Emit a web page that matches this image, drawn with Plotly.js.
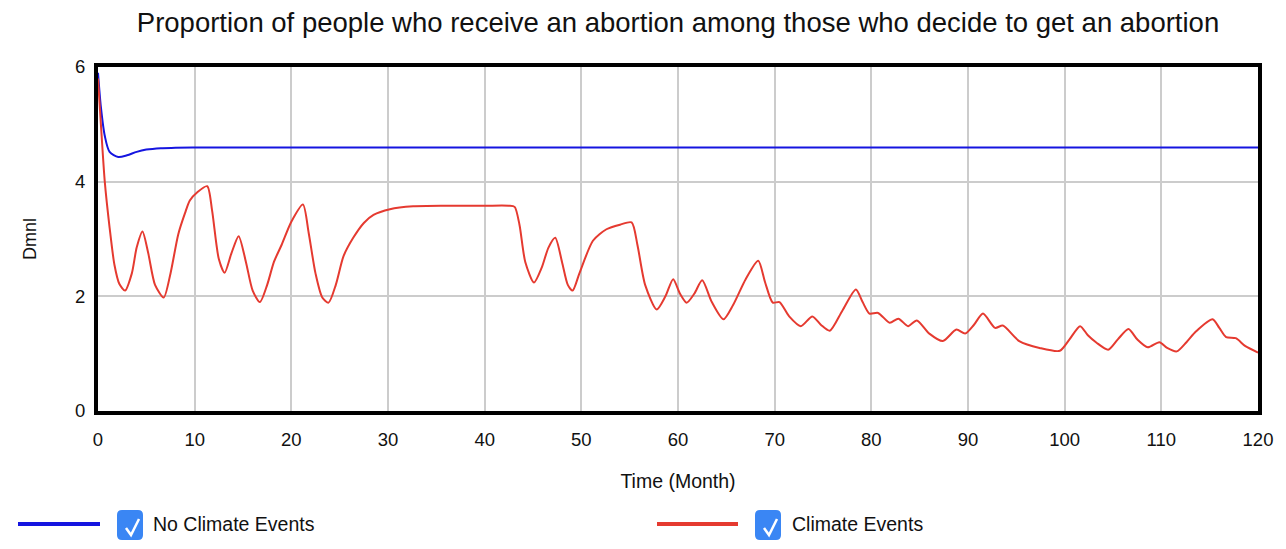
<!DOCTYPE html>
<html>
<head>
<meta charset="utf-8">
<script src="https://cdn.plot.ly/plotly-3.0.1.min.js"></script>
<style>html,body{margin:0;padding:0;background:#fff;}#chart{width:1286px;height:549px;}</style>
</head>
<body>
<div id="chart"></div>
<script>
// ---- data ----
const blueTime = [0, 0.3, 0.7, 1.2, 2.1, 3, 4, 5, 6.5, 8, 10, 20, 40, 60, 80, 100, 120];
const blueValues = [5.9, 5.3, 4.8, 4.52, 4.43, 4.46, 4.52, 4.56, 4.585, 4.59, 4.595, 4.595, 4.595, 4.595, 4.595, 4.595, 4.595];

const redTime = [0, 0.3, 0.7, 1.2, 1.7, 2.2, 2.8, 3.5, 4.0, 4.6, 5.2, 5.9, 6.8, 7.5, 8.3, 9.0, 9.5, 10.3, 11.3, 11.8, 12.5, 13.1, 13.8, 14.55, 15.3, 16.0, 16.75, 17.5, 18.2, 19.0, 20.0, 21.2, 21.8, 22.5, 23.2, 23.85, 24.6, 25.4, 26.4, 27.5, 28.5, 30.2, 32.6, 36, 40, 42.5, 43.1, 43.6, 44.2, 45.1, 45.9, 46.6, 47.3, 48.0, 48.6, 49.1, 49.8, 51.2, 52.6, 54, 55.2, 55.8, 56.6, 57.8, 58.7, 59.5, 60.2, 60.9, 61.7, 62.5, 63.5, 64.7, 65.7, 67, 68.3, 69.0, 69.8, 70.5, 71.5, 72.7, 73.9, 74.8, 75.7, 77, 78.4, 79.1, 79.8, 80.7, 81.9, 82.8, 83.8, 84.7, 86, 87.4, 88.8, 89.7, 90.6, 91.55, 92.8, 93.6, 95.3, 97.4, 99.5, 100.5, 101.6, 102.4, 103.3, 104.5, 105.5, 106.6, 107.5, 108.6, 109.8, 110.6, 111.6, 112.6, 113.6, 115.3, 116.0, 116.7, 117.7, 118.7, 120];
const redValues = [5.8, 5.0, 4.0, 3.2, 2.55, 2.22, 2.10, 2.4, 2.85, 3.13, 2.75, 2.2, 1.98, 2.4, 3.08, 3.45, 3.67, 3.82, 3.92, 3.5, 2.65, 2.41, 2.75, 3.05, 2.6, 2.1, 1.90, 2.2, 2.6, 2.9, 3.3, 3.60, 3.1, 2.4, 1.98, 1.89, 2.2, 2.7, 3.02, 3.28, 3.42, 3.52, 3.57, 3.58, 3.58, 3.58, 3.56, 3.25, 2.6, 2.24, 2.5, 2.85, 3.02, 2.6, 2.2, 2.10, 2.4, 2.97, 3.17, 3.25, 3.29, 2.9, 2.2, 1.77, 2.0, 2.30, 2.05, 1.89, 2.05, 2.28, 1.9, 1.60, 1.85, 2.3, 2.62, 2.25, 1.89, 1.90, 1.65, 1.48, 1.65, 1.5, 1.40, 1.75, 2.12, 1.9, 1.70, 1.71, 1.54, 1.61, 1.48, 1.58, 1.35, 1.22, 1.42, 1.35, 1.5, 1.70, 1.45, 1.49, 1.22, 1.10, 1.05, 1.25, 1.48, 1.32, 1.19, 1.07, 1.25, 1.43, 1.25, 1.11, 1.20, 1.1, 1.04, 1.2, 1.39, 1.60, 1.45, 1.29, 1.27, 1.13, 1.02];

const seriesNames = ["No Climate Events", "Climate Events"];
const titleText = "Proportion of people who receive an abortion among those who decide to get an abortion";
const xTicks = [0, 10, 20, 30, 40, 50, 60, 70, 80, 90, 100, 110, 120];
const yTicks = [0, 2, 4, 6];

// ---- styles ----
const BLUE = "#1515e0";
const RED = "#e53a30";
const CHECK = "#3a86f4";
const FONT = "Arial, 'Liberation Sans', Helvetica, sans-serif";

const W = 1286, H = 549;
const L = 98, R = 1258, T = 67, B = 411;
const px = v => (v - L) / (R - L);
const py = v => (B - v) / (B - T);

const traces = [
  {x: blueTime, y: blueValues, name: seriesNames[0], type: "scatter", mode: "lines",
   line: {color: BLUE, width: 2, shape: "spline", smoothing: 0.8}},
  {x: redTime, y: redValues, name: seriesNames[1], type: "scatter", mode: "lines",
   line: {color: RED, width: 2, shape: "spline", smoothing: 0.7}}
];

function checkbox(x0, y0, w, h, r) {
  const x1 = x0 + w, y1 = y0 + h;
  const P = (a, b) => px(a) + "," + py(b);
  return "M" + P(x0 + r, y0) + " L" + P(x1 - r, y0) + " Q" + P(x1, y0) + " " + P(x1, y0 + r) +
    " L" + P(x1, y1 - r) + " Q" + P(x1, y1) + " " + P(x1 - r, y1) +
    " L" + P(x0 + r, y1) + " Q" + P(x0, y1) + " " + P(x0, y1 - r) +
    " L" + P(x0, y0 + r) + " Q" + P(x0, y0) + " " + P(x0 + r, y0) + " Z";
}
function checkmark(x0, y0) {
  const P = (a, b) => px(a) + "," + py(b);
  return "M" + P(x0 + 6, y0 + 15) + " L" + P(x0 + 11, y0 + 22) + " L" + P(x0 + 19, y0 + 6);
}

const legendY = 524;
const shapes = [
  {type: "line", xref: "paper", yref: "paper", x0: px(18), x1: px(100), y0: py(legendY), y1: py(legendY),
   line: {color: BLUE, width: 4}},
  {type: "path", xref: "paper", yref: "paper", path: checkbox(117, 510, 26, 30, 5),
   fillcolor: CHECK, line: {width: 0}},
  {type: "path", xref: "paper", yref: "paper", path: checkmark(120, 513),
   line: {color: "#ffffff", width: 2.5}},
  {type: "line", xref: "paper", yref: "paper", x0: px(657), x1: px(738), y0: py(legendY), y1: py(legendY),
   line: {color: RED, width: 4}},
  {type: "path", xref: "paper", yref: "paper", path: checkbox(755, 510, 26, 30, 5),
   fillcolor: CHECK, line: {width: 0}},
  {type: "path", xref: "paper", yref: "paper", path: checkmark(758, 513),
   line: {color: "#ffffff", width: 2.5}}
];

const annotations = [
  {xref: "paper", yref: "paper", x: px(151), y: py(legendY), xanchor: "left", yanchor: "middle",
   text: seriesNames[0], showarrow: false, font: {family: FONT, size: 19.5, color: "#111"}},
  {xref: "paper", yref: "paper", x: px(790), y: py(legendY), xanchor: "left", yanchor: "middle",
   text: seriesNames[1], showarrow: false, font: {family: FONT, size: 19.5, color: "#111"}}
];

const layout = {
  width: W, height: H,
  margin: {l: L, r: W - R, t: T, b: H - B, pad: 0},
  paper_bgcolor: "#ffffff", plot_bgcolor: "#ffffff",
  showlegend: false,
  font: {family: FONT, color: "#111"},
  title: {text: titleText, font: {family: FONT, size: 27.5, color: "#111"},
          x: 0.5, xref: "paper", xanchor: "center", y: 1 - 22 / H, yanchor: "middle"},
  xaxis: {range: [0, 120], tickvals: xTicks, ticktext: xTicks.map(String),
          showgrid: true, gridcolor: "#cccccc", gridwidth: 2, zeroline: false,
          showline: true, linecolor: "#000", linewidth: 4, mirror: true,
          ticks: "", ticklabelstandoff: 9, tickfont: {family: FONT, size: 18.5, color: "#111"},
          title: {text: "Time (Month)", font: {family: FONT, size: 19.5, color: "#111"}, standoff: 26}},
  yaxis: {range: [0, 6], tickvals: yTicks, ticktext: yTicks.map(String),
          showgrid: true, gridcolor: "#cccccc", gridwidth: 2, zeroline: false,
          showline: true, linecolor: "#000", linewidth: 4, mirror: true,
          ticks: "", ticklabelstandoff: 5, tickfont: {family: FONT, size: 18.5, color: "#111"},
          title: {text: "Dmnl", font: {family: FONT, size: 18, color: "#111"}, standoff: 35}},
  shapes: shapes,
  annotations: annotations
};

Plotly.newPlot("chart", traces, layout, {displayModeBar: false, staticPlot: true});
</script>
</body>
</html>
